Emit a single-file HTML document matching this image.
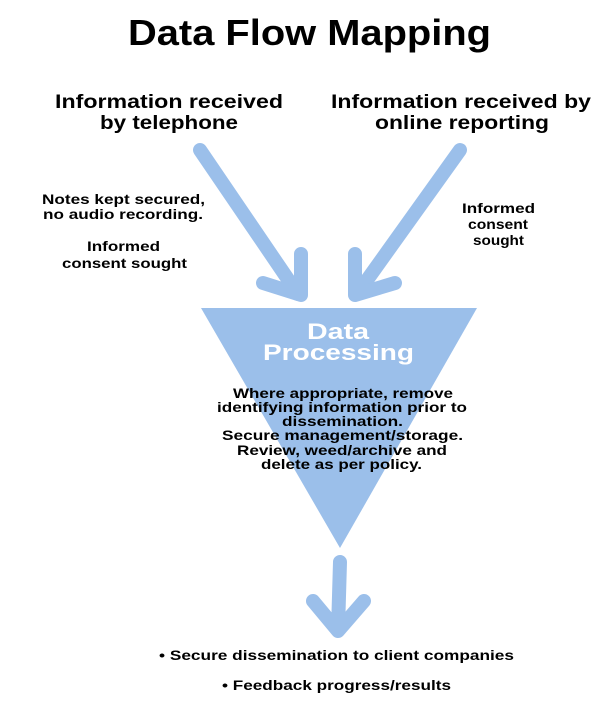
<!DOCTYPE html>
<html><head><meta charset="utf-8"><style>html,body{margin:0;padding:0;background:#fff}svg{display:block}text{font-family:"Liberation Sans",Arial,sans-serif;font-weight:bold;fill:#000}</style></head>
<body>
<svg width="600" height="720" viewBox="0 0 600 720" xmlns="http://www.w3.org/2000/svg">
<g stroke="#9bbfea" stroke-width="14" stroke-linecap="round" stroke-linejoin="round" fill="none">
<line x1="200" y1="150" x2="298" y2="294"/>
<polyline points="301,254 301,295 263,283"/>
<line x1="460" y1="150" x2="357" y2="294"/>
<polyline points="355,254 355,295 395,283"/>
<line x1="340" y1="562" x2="338" y2="630"/>
<polyline points="313,601 338,631 364,601"/>
</g>
<polygon points="201,308 477,308 340,548" fill="#9bbfea"/>
<text x="128" y="45" font-size="36" textLength="363" lengthAdjust="spacingAndGlyphs">Data Flow Mapping</text>
<text x="55" y="108" font-size="19" textLength="228" lengthAdjust="spacingAndGlyphs">Information received</text>
<text x="100" y="129" font-size="19" textLength="138" lengthAdjust="spacingAndGlyphs">by telephone</text>
<text x="331" y="108" font-size="19" textLength="260" lengthAdjust="spacingAndGlyphs">Information received by</text>
<text x="375" y="129" font-size="19" textLength="174" lengthAdjust="spacingAndGlyphs">online reporting</text>
<text x="42" y="204" font-size="14" textLength="163" lengthAdjust="spacingAndGlyphs">Notes kept secured,</text>
<text x="43" y="219" font-size="14" textLength="160" lengthAdjust="spacingAndGlyphs">no audio recording.</text>
<text x="87" y="251" font-size="14" textLength="73" lengthAdjust="spacingAndGlyphs">Informed</text>
<text x="62" y="268" font-size="14" textLength="125" lengthAdjust="spacingAndGlyphs">consent sought</text>
<text x="462" y="213" font-size="14" textLength="73" lengthAdjust="spacingAndGlyphs">Informed</text>
<text x="468" y="229" font-size="14" textLength="60" lengthAdjust="spacingAndGlyphs">consent</text>
<text x="473" y="245" font-size="14" textLength="51" lengthAdjust="spacingAndGlyphs">sought</text>
<text x="307" y="339" font-size="22" style="fill:#fff" textLength="62" lengthAdjust="spacingAndGlyphs">Data</text>
<text x="263" y="360" font-size="22" style="fill:#fff" textLength="151" lengthAdjust="spacingAndGlyphs">Processing</text>
<g font-size="14">
<text x="233" y="398" textLength="220" lengthAdjust="spacingAndGlyphs">Where appropriate, remove</text>
<text x="217" y="412" textLength="250" lengthAdjust="spacingAndGlyphs">identifying information prior to</text>
<text x="282" y="426" textLength="121" lengthAdjust="spacingAndGlyphs">dissemination.</text>
<text x="222" y="440" textLength="241" lengthAdjust="spacingAndGlyphs">Secure management/storage.</text>
<text x="237" y="455" textLength="210" lengthAdjust="spacingAndGlyphs">Review, weed/archive and</text>
<text x="261" y="469" textLength="161" lengthAdjust="spacingAndGlyphs">delete as per policy.</text>
<text x="159" y="660" textLength="355" lengthAdjust="spacingAndGlyphs">• Secure dissemination to client companies</text>
<text x="222" y="690" textLength="229" lengthAdjust="spacingAndGlyphs">• Feedback progress/results</text>
</g>
</svg>
</body></html>
